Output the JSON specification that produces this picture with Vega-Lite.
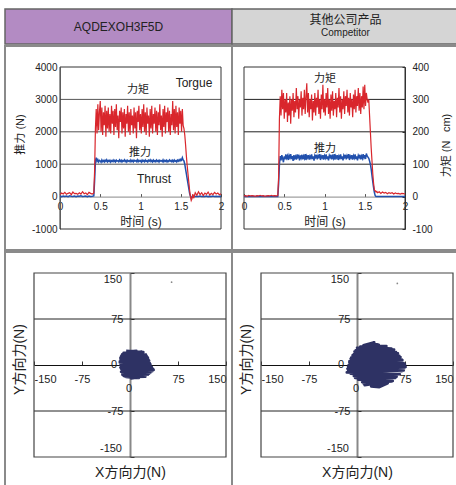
{
"$schema":"https://vega.github.io/schema/vega-lite/v6.json",
"background":"white",
"padding":{"left":4,"top":8,"right":0,"bottom":0},
"spacing":0,
"config":{"font":"Liberation Sans, Noto Sans CJK SC","view":{"stroke":null},"locale":{"number":{"decimal":".","thousands":",","grouping":[3],"currency":["$",""],"minus":"-"}}},
"datasets":{
"ts":[
{"t":0,"a":60,"b":10,"c":2,"d":0},{"t":0.02,"a":110,"b":0,"c":3,"d":0},{"t":0.04,"a":80,"b":20,"c":1,"d":0},{"t":0.06,"a":130,"b":5,"c":4,"d":0},{"t":0.08,"a":70,"b":15,"c":2,"d":0},{"t":0.10,"a":100,"b":0,"c":3,"d":0},{"t":0.12,"a":120,"b":25,"c":2,"d":0},{"t":0.14,"a":60,"b":10,"c":1,"d":0},{"t":0.16,"a":140,"b":5,"c":3,"d":0},{"t":0.18,"a":90,"b":20,"c":2,"d":0},{"t":0.20,"a":100,"b":0,"c":4,"d":0},{"t":0.22,"a":70,"b":15,"c":2,"d":0},{"t":0.24,"a":120,"b":10,"c":3,"d":0},{"t":0.26,"a":80,"b":25,"c":1,"d":0},{"t":0.28,"a":150,"b":5,"c":2,"d":0},{"t":0.30,"a":90,"b":10,"c":3,"d":0},{"t":0.32,"a":110,"b":20,"c":2,"d":0},{"t":0.34,"a":60,"b":0,"c":4,"d":0},{"t":0.36,"a":130,"b":15,"c":2,"d":0},{"t":0.38,"a":100,"b":5,"c":3,"d":0},{"t":0.40,"a":80,"b":10,"c":2,"d":0},{"t":0.42,"a":110,"b":20,"c":3,"d":0},
{"t":0.43,"a":800,"b":500,"c":60,"d":40},{"t":0.44,"a":2100,"b":1100,"c":240,"d":100},
{"t":0.45,"a":2700,"b":1200,"c":310,"d":125},{"t":0.46,"a":1950,"b":1090,"c":250,"d":112},{"t":0.47,"a":2850,"b":1140,"c":330,"d":128},{"t":0.48,"a":2050,"b":1070,"c":270,"d":118},{"t":0.49,"a":2600,"b":1120,"c":320,"d":106},{"t":0.50,"a":2950,"b":1100,"c":240,"d":124},{"t":0.51,"a":2000,"b":1060,"c":300,"d":115},{"t":0.52,"a":2750,"b":1130,"c":260,"d":130},{"t":0.53,"a":1900,"b":1080,"c":320,"d":119},{"t":0.54,"a":2600,"b":1110,"c":230,"d":126},
{"t":0.55,"a":2200,"b":1070,"c":290,"d":113},{"t":0.56,"a":2800,"b":1125,"c":250,"d":127},{"t":0.57,"a":1850,"b":1090,"c":310,"d":120},{"t":0.58,"a":2650,"b":1135,"c":225,"d":131},{"t":0.59,"a":2100,"b":1075,"c":300,"d":116},{"t":0.60,"a":2750,"b":1115,"c":265,"d":125},{"t":0.61,"a":2000,"b":1085,"c":320,"d":110},{"t":0.62,"a":2550,"b":1120,"c":245,"d":128},{"t":0.63,"a":1950,"b":1065,"c":295,"d":118},{"t":0.64,"a":2800,"b":1110,"c":260,"d":124},
{"t":0.65,"a":2250,"b":1090,"c":335,"d":114},{"t":0.66,"a":2650,"b":1130,"c":270,"d":130},{"t":0.67,"a":1900,"b":1080,"c":310,"d":121},{"t":0.68,"a":2700,"b":1115,"c":240,"d":126},{"t":0.69,"a":2150,"b":1070,"c":300,"d":112},{"t":0.70,"a":2850,"b":1125,"c":275,"d":127},{"t":0.71,"a":2050,"b":1095,"c":325,"d":119},{"t":0.72,"a":2500,"b":1110,"c":250,"d":129},{"t":0.73,"a":1800,"b":1075,"c":305,"d":115},{"t":0.74,"a":2650,"b":1130,"c":270,"d":125},
{"t":0.75,"a":2300,"b":1085,"c":330,"d":118},{"t":0.76,"a":2750,"b":1120,"c":255,"d":131},{"t":0.77,"a":1950,"b":1070,"c":310,"d":113},{"t":0.78,"a":2600,"b":1110,"c":350,"d":126},{"t":0.79,"a":2100,"b":1095,"c":260,"d":120},{"t":0.80,"a":2700,"b":1135,"c":320,"d":128},{"t":0.81,"a":1850,"b":1080,"c":245,"d":114},{"t":0.82,"a":2550,"b":1115,"c":300,"d":125},{"t":0.83,"a":2250,"b":1065,"c":270,"d":119},{"t":0.84,"a":2800,"b":1120,"c":315,"d":130},
{"t":0.85,"a":2000,"b":1090,"c":235,"d":116},{"t":0.86,"a":2600,"b":1110,"c":295,"d":124},{"t":0.87,"a":1900,"b":1075,"c":260,"d":111},{"t":0.88,"a":2700,"b":1130,"c":320,"d":127},{"t":0.89,"a":2200,"b":1085,"c":250,"d":121},{"t":0.90,"a":2500,"b":1115,"c":305,"d":129},{"t":0.91,"a":1950,"b":1070,"c":275,"d":115},{"t":0.92,"a":2750,"b":1125,"c":330,"d":126},{"t":0.93,"a":2100,"b":1095,"c":255,"d":118},{"t":0.94,"a":2600,"b":1110,"c":300,"d":131},
{"t":0.95,"a":1800,"b":1080,"c":240,"d":113},{"t":0.96,"a":2650,"b":1135,"c":315,"d":125},{"t":0.97,"a":2300,"b":1075,"c":270,"d":120},{"t":0.98,"a":2800,"b":1120,"c":345,"d":128},{"t":0.99,"a":2050,"b":1090,"c":260,"d":114},{"t":1.00,"a":2550,"b":1110,"c":300,"d":126},{"t":1.01,"a":1950,"b":1065,"c":250,"d":119},{"t":1.02,"a":2700,"b":1125,"c":320,"d":130},{"t":1.03,"a":2150,"b":1085,"c":275,"d":116},{"t":1.04,"a":2850,"b":1115,"c":335,"d":124},
{"t":1.05,"a":2000,"b":1075,"c":255,"d":112},{"t":1.06,"a":2600,"b":1130,"c":300,"d":127},{"t":1.07,"a":1900,"b":1090,"c":240,"d":121},{"t":1.08,"a":2750,"b":1110,"c":315,"d":129},{"t":1.09,"a":2250,"b":1070,"c":265,"d":115},{"t":1.10,"a":2500,"b":1120,"c":325,"d":125},{"t":1.11,"a":1850,"b":1095,"c":250,"d":118},{"t":1.12,"a":2700,"b":1135,"c":295,"d":131},{"t":1.13,"a":2100,"b":1080,"c":270,"d":114},{"t":1.14,"a":2800,"b":1115,"c":320,"d":126},
{"t":1.15,"a":1950,"b":1070,"c":245,"d":120},{"t":1.16,"a":2550,"b":1125,"c":305,"d":128},{"t":1.17,"a":2250,"b":1085,"c":275,"d":113},{"t":1.18,"a":2750,"b":1110,"c":335,"d":125},{"t":1.19,"a":2000,"b":1075,"c":260,"d":119},{"t":1.20,"a":2650,"b":1130,"c":310,"d":130},{"t":1.21,"a":1900,"b":1090,"c":240,"d":116},{"t":1.22,"a":2600,"b":1115,"c":300,"d":124},{"t":1.23,"a":2200,"b":1065,"c":270,"d":112},{"t":1.24,"a":2850,"b":1120,"c":325,"d":127},
{"t":1.25,"a":2050,"b":1095,"c":255,"d":121},{"t":1.26,"a":2500,"b":1110,"c":310,"d":129},{"t":1.27,"a":1850,"b":1080,"c":280,"d":115},{"t":1.28,"a":2700,"b":1135,"c":330,"d":126},{"t":1.29,"a":2150,"b":1075,"c":260,"d":118},{"t":1.30,"a":2800,"b":1115,"c":305,"d":131},{"t":1.31,"a":1950,"b":1090,"c":250,"d":113},{"t":1.32,"a":2600,"b":1125,"c":320,"d":125},{"t":1.33,"a":2300,"b":1070,"c":275,"d":120},{"t":1.34,"a":2750,"b":1110,"c":300,"d":128},
{"t":1.35,"a":2000,"b":1085,"c":245,"d":114},{"t":1.36,"a":2650,"b":1130,"c":315,"d":126},{"t":1.37,"a":1900,"b":1095,"c":270,"d":119},{"t":1.38,"a":2550,"b":1115,"c":330,"d":130},{"t":1.39,"a":2200,"b":1075,"c":260,"d":116},{"t":1.40,"a":2950,"b":1120,"c":310,"d":124},{"t":1.41,"a":2050,"b":1080,"c":280,"d":112},{"t":1.42,"a":2700,"b":1130,"c":335,"d":127},{"t":1.43,"a":1950,"b":1090,"c":265,"d":121},{"t":1.44,"a":2800,"b":1110,"c":320,"d":129},
{"t":1.45,"a":2150,"b":1070,"c":255,"d":115},{"t":1.46,"a":2600,"b":1125,"c":310,"d":125},{"t":1.47,"a":1900,"b":1095,"c":275,"d":118},{"t":1.48,"a":2750,"b":1140,"c":340,"d":131},{"t":1.49,"a":2250,"b":1100,"c":270,"d":120},{"t":1.50,"a":2650,"b":1150,"c":345,"d":128},{"t":1.51,"a":2000,"b":1120,"c":280,"d":116},{"t":1.52,"a":2700,"b":1200,"c":320,"d":133},{"t":1.53,"a":2200,"b":1130,"c":300,"d":125},
{"t":1.54,"a":2100,"b":1100,"c":290,"d":122},{"t":1.55,"a":1900,"b":1000,"c":300,"d":118},{"t":1.56,"a":1600,"b":850,"c":250,"d":110},{"t":1.57,"a":1250,"b":700,"c":200,"d":100},{"t":1.58,"a":950,"b":550,"c":150,"d":85},{"t":1.59,"a":700,"b":400,"c":110,"d":65},{"t":1.60,"a":450,"b":250,"c":70,"d":45},{"t":1.61,"a":200,"b":100,"c":40,"d":28},{"t":1.62,"a":0,"b":20,"c":20,"d":12},{"t":1.63,"a":-120,"b":-30,"c":18,"d":3},{"t":1.64,"a":-60,"b":-20,"c":14,"d":0},{"t":1.65,"a":80,"b":0,"c":16,"d":0},{"t":1.66,"a":-50,"b":10,"c":12,"d":0},
{"t":1.68,"a":120,"b":0,"c":15,"d":0},{"t":1.70,"a":40,"b":10,"c":10,"d":0},{"t":1.72,"a":150,"b":5,"c":14,"d":0},{"t":1.74,"a":60,"b":15,"c":11,"d":0},{"t":1.76,"a":120,"b":0,"c":13,"d":0},{"t":1.78,"a":30,"b":10,"c":9,"d":0},{"t":1.80,"a":110,"b":5,"c":12,"d":0},{"t":1.82,"a":70,"b":20,"c":10,"d":0},{"t":1.84,"a":140,"b":0,"c":12,"d":0},{"t":1.86,"a":50,"b":10,"c":8,"d":0},{"t":1.88,"a":100,"b":5,"c":11,"d":0},{"t":1.90,"a":60,"b":15,"c":9,"d":0},{"t":1.92,"a":130,"b":0,"c":10,"d":0},{"t":1.94,"a":80,"b":10,"c":8,"d":0},{"t":1.96,"a":110,"b":5,"c":10,"d":0},{"t":1.98,"a":60,"b":10,"c":9,"d":0},{"t":2.00,"a":90,"b":5,"c":8,"d":0}
],
"sL":[
{"i":1,"x":-6,"y":23},{"i":2,"x":21,"y":21},{"i":3,"x":-12,"y":18},{"i":4,"x":26,"y":15},{"i":5,"x":-15,"y":12},{"i":6,"x":29,"y":9},{"i":7,"x":-16,"y":6},{"i":8,"x":31,"y":3},{"i":9,"x":-15,"y":0},{"i":10,"x":34,"y":-3},{"i":11,"x":-14,"y":-6},{"i":12,"x":37,"y":-8},{"i":13,"x":-13,"y":-10},{"i":14,"x":32,"y":-12},{"i":15,"x":-12,"y":-14},{"i":16,"x":28,"y":-16},{"i":17,"x":-10,"y":-18},{"i":18,"x":24,"y":-19},{"i":19,"x":-6,"y":-20},{"i":20,"x":14,"y":-21},{"i":21,"x":-12,"y":-16},{"i":22,"x":30,"y":-14},{"i":23,"x":-14,"y":-11},{"i":24,"x":36,"y":-6},{"i":25,"x":-15,"y":-4},{"i":26,"x":32,"y":1},{"i":27,"x":-16,"y":4},{"i":28,"x":30,"y":7},{"i":29,"x":-15,"y":10},{"i":30,"x":28,"y":12},{"i":31,"x":-14,"y":14},{"i":32,"x":25,"y":17},{"i":33,"x":-10,"y":20},{"i":34,"x":20,"y":20},{"i":35,"x":-4,"y":22},{"i":36,"x":10,"y":23},{"i":37,"x":-8,"y":-19},{"i":38,"x":14,"y":-20},{"i":39,"x":2,"y":-22},{"i":40,"x":18,"y":22},{"i":41,"x":-13,"y":16},{"i":42,"x":35,"y":-10},{"i":43,"x":0,"y":5},{"i":44,"x":-16,"y":-2}
],
"sR":[
{"i":1,"x":24,"y":36},{"i":2,"x":34,"y":33},{"i":3,"x":5,"y":30},{"i":4,"x":54,"y":27},{"i":5,"x":-2,"y":24},{"i":6,"x":61,"y":21},{"i":7,"x":-5,"y":18},{"i":8,"x":66,"y":15},{"i":9,"x":-9,"y":12},{"i":10,"x":70,"y":9},{"i":11,"x":-12,"y":6},{"i":12,"x":73,"y":3},{"i":13,"x":-13,"y":0},{"i":14,"x":76,"y":-3},{"i":15,"x":-15,"y":-6},{"i":16,"x":73,"y":-9},{"i":17,"x":-16,"y":-12},{"i":18,"x":67,"y":-15},{"i":19,"x":-5,"y":-18},{"i":20,"x":60,"y":-21},{"i":21,"x":2,"y":-24},{"i":22,"x":54,"y":-27},{"i":23,"x":10,"y":-30},{"i":24,"x":40,"y":-33},{"i":25,"x":22,"y":-35},{"i":26,"x":35,"y":-36},{"i":27,"x":48,"y":-30},{"i":28,"x":8,"y":-28},{"i":29,"x":62,"y":-19},{"i":30,"x":-10,"y":-14},{"i":31,"x":72,"y":-6},{"i":32,"x":-14,"y":-3},{"i":33,"x":75,"y":1},{"i":34,"x":-12,"y":4},{"i":35,"x":71,"y":8},{"i":36,"x":-10,"y":10},{"i":37,"x":68,"y":13},{"i":38,"x":-7,"y":16},{"i":39,"x":64,"y":19},{"i":40,"x":-4,"y":22},{"i":41,"x":58,"y":25},{"i":42,"x":0,"y":28},{"i":43,"x":46,"y":31},{"i":44,"x":10,"y":32},{"i":45,"x":27,"y":37},{"i":46,"x":15,"y":33},{"i":47,"x":2,"y":27},{"i":48,"x":12,"y":-33},{"i":49,"x":56,"y":-26},{"i":50,"x":-3,"y":-21},{"i":51,"x":74,"y":-1},{"i":52,"x":-13,"y":-5},{"i":53,"x":70,"y":-10},{"i":54,"x":-11,"y":2},{"i":55,"x":74,"y":-5},{"i":56,"x":-14,"y":-8},{"i":57,"x":66,"y":5},{"i":58,"x":-12,"y":-10},{"i":59,"x":72,"y":-2},{"i":60,"x":0,"y":-16},{"i":61,"x":50,"y":14}
],
"zl":[{"x":0,"y":150,"s":"150","p":"t"},{"x":0,"y":-150,"s":"-150","p":"b"}]
},
"vconcat":[
{"hconcat":[
 {"width":227,"height":35,"view":{"fill":"#b38bc3","stroke":"#666","strokeWidth":1.5},"data":{"values":[{"s":"AQDEXOH3F5D"}]},"mark":{"type":"text","fontSize":12,"color":"#222"},"encoding":{"text":{"field":"s"}}},
 {"width":227,"height":35,"view":{"fill":"#d5d5d5","stroke":"#666","strokeWidth":1.5},"data":{"values":[{"s":"其他公司产品","e":"Competitor"}]},"layer":[
  {"mark":{"type":"text","fontSize":12,"color":"#222","dy":-7},"encoding":{"text":{"field":"s"}}},
  {"mark":{"type":"text","fontSize":10,"color":"#222","dy":6},"encoding":{"text":{"field":"e"}}}
 ]}
],"spacing":0,"bounds":"flush"},
{"hconcat":[
 {"width":227,"height":204,"view":{"stroke":"#8a8a8a","strokeWidth":2},"layer":[
  {"data":{"values":[{"g":1000},{"g":2000},{"g":3000}]},"mark":{"type":"rule","color":"#555","strokeWidth":1},"encoding":{"x":{"datum":0,"type":"quantitative","scale":{"domain":[0,2],"range":[55,216],"nice":false,"zero":false}},"x2":{"datum":2},"y":{"field":"g","type":"quantitative","scale":{"domain":[-1000,4000],"range":[183,21],"nice":false,"zero":false}}}},
  {"data":{"values":[{}]},"mark":{"type":"rect","filled":false,"stroke":"#333","strokeWidth":1},"encoding":{"x":{"datum":0,"type":"quantitative","scale":{"domain":[0,2],"range":[55,216],"nice":false,"zero":false}},"x2":{"datum":2},"y":{"datum":-1000,"type":"quantitative","scale":{"domain":[-1000,4000],"range":[183,21],"nice":false,"zero":false}},"y2":{"datum":4000}}},
  {"data":{"name":"ts"},"mark":{"type":"line","color":"#2150ad","strokeWidth":1.5},"encoding":{
   "x":{"field":"t","type":"quantitative","scale":{"domain":[0,2],"range":[55,216],"nice":false,"zero":false},"axis":{"orient":"bottom","offset":-53.4,"values":[0,0.5,1,1.5,2],"format":"~g","labelFlush":false,"labelOverlap":false,"labelBound":false,"grid":false,"domainColor":"#888","domainWidth":1,"tickColor":"#555","tickSize":-3,"labelPadding":8,"labelFontSize":10,"labelColor":"#222","title":"时间 (s)","titleFontSize":12,"titleFontWeight":"normal","titleColor":"#222","titleBaseline":"middle","titleY":25}},
   "y":{"field":"b","type":"quantitative","scale":{"domain":[-1000,4000],"range":[183,21],"nice":false,"zero":false},"axis":{"orient":"left","offset":-55,"values":[-1000,0,1000,2000,3000,4000],"format":"d","labelFlush":false,"labelOverlap":false,"labelBound":false,"grid":false,"domainColor":"#888","ticks":false,"labelPadding":3,"labelFontSize":10,"labelColor":"#222","title":"推力 (N)","titleFontSize":11,"titleFontWeight":"normal","titleColor":"#222","titleAngle":-90,"titleBaseline":"middle","titleX":-40,"titleY":88}}}},
  {"data":{"name":"ts"},"mark":{"type":"line","color":"#d9262c","strokeWidth":1.2},"encoding":{
   "x":{"field":"t","type":"quantitative","scale":{"domain":[0,2],"range":[55,216],"nice":false,"zero":false}},
   "y":{"field":"a","type":"quantitative","scale":{"domain":[-1000,4000],"range":[183,21],"nice":false,"zero":false}}}},
  {"data":{"values":[{"t":1.665,"v":3506,"s":"Torgue"},{"t":1.168,"v":543,"s":"Thrust"}]},"mark":{"type":"text","fontSize":12,"color":"#222"},"encoding":{
   "x":{"field":"t","type":"quantitative","scale":{"domain":[0,2],"range":[55,216],"nice":false,"zero":false}},
   "y":{"field":"v","type":"quantitative","scale":{"domain":[-1000,4000],"range":[183,21],"nice":false,"zero":false}},
   "text":{"field":"s"}}},
  {"data":{"values":[{"t":0.969,"v":3290,"s":"力矩"},{"t":0.994,"v":1361,"s":"推力"}]},"mark":{"type":"text","fontSize":11,"color":"#222"},"encoding":{
   "x":{"field":"t","type":"quantitative","scale":{"domain":[0,2],"range":[55,216],"nice":false,"zero":false}},
   "y":{"field":"v","type":"quantitative","scale":{"domain":[-1000,4000],"range":[183,21],"nice":false,"zero":false}},
   "text":{"field":"s"}}}
 ]},
 {"width":227,"height":204,"view":{"stroke":"#8a8a8a","strokeWidth":2},"layer":[
  {"data":{"values":[{"g":100},{"g":200},{"g":300}]},"mark":{"type":"rule","color":"#222","strokeWidth":1},"encoding":{"x":{"datum":0,"type":"quantitative","scale":{"domain":[0,2],"range":[12,173],"nice":false,"zero":false}},"x2":{"datum":2},"y":{"field":"g","type":"quantitative","scale":{"domain":[-100,400],"range":[183,21],"nice":false,"zero":false}}}},
  {"data":{"values":[{}]},"mark":{"type":"rect","filled":false,"stroke":"#333","strokeWidth":1},"encoding":{"x":{"datum":0,"type":"quantitative","scale":{"domain":[0,2],"range":[12,173],"nice":false,"zero":false}},"x2":{"datum":2},"y":{"datum":-100,"type":"quantitative","scale":{"domain":[-100,400],"range":[183,21],"nice":false,"zero":false}},"y2":{"datum":400}}},
  {"data":{"name":"ts"},"mark":{"type":"line","color":"#2150ad","strokeWidth":1.5},"encoding":{
   "x":{"field":"t","type":"quantitative","scale":{"domain":[0,2],"range":[12,173],"nice":false,"zero":false},"axis":{"orient":"bottom","offset":-53.4,"values":[0,0.5,1,1.5,2],"format":"~g","labelFlush":false,"labelOverlap":false,"labelBound":false,"grid":false,"domainColor":"#888","domainWidth":1,"tickColor":"#555","tickSize":-3,"labelPadding":8,"labelFontSize":10,"labelColor":"#222","title":"时间 (s)","titleFontSize":12,"titleFontWeight":"normal","titleColor":"#222","titleBaseline":"middle","titleY":25}},
   "y":{"field":"d","type":"quantitative","scale":{"domain":[-100,400],"range":[183,21],"nice":false,"zero":false},"axis":{"orient":"right","offset":-54,"values":[-100,0,100,200,300,400],"format":"d","labelFlush":false,"labelOverlap":false,"labelBound":false,"grid":false,"domainColor":"#333","tickColor":"#333","tickSize":-3,"labelPadding":10,"labelFontSize":10,"labelColor":"#222","title":"力矩 (N \u2002cm)","titleFontSize":11,"titleFontWeight":"normal","titleColor":"#222","titleAngle":-90,"titleBaseline":"middle","titleX":41,"titleY":99}}}},
  {"data":{"name":"ts"},"mark":{"type":"line","color":"#d9262c","strokeWidth":1.2},"encoding":{
   "x":{"field":"t","type":"quantitative","scale":{"domain":[0,2],"range":[12,173],"nice":false,"zero":false}},
   "y":{"field":"c","type":"quantitative","scale":{"domain":[-100,400],"range":[183,21],"nice":false,"zero":false}}}},
  {"data":{"values":[{"t":1.006,"v":364,"s":"力矩"},{"t":1.006,"v":148,"s":"推力"}]},"mark":{"type":"text","fontSize":11,"color":"#222"},"encoding":{
   "x":{"field":"t","type":"quantitative","scale":{"domain":[0,2],"range":[12,173],"nice":false,"zero":false}},
   "y":{"field":"v","type":"quantitative","scale":{"domain":[-100,400],"range":[183,21],"nice":false,"zero":false}},
   "text":{"field":"s"}}}
 ]}
],"spacing":0,"bounds":"flush"},
{"hconcat":[
 {"width":227,"height":242,"view":{"stroke":"#8a8a8a","strokeWidth":2},"layer":[
  {"data":{"values":[{"g":75},{"g":-75}]},"mark":{"type":"rule","color":"#222","strokeWidth":1},"encoding":{"x":{"datum":-150,"type":"quantitative","scale":{"domain":[-150,150],"range":[29,221],"nice":false,"zero":false}},"x2":{"datum":150},"y":{"field":"g","type":"quantitative","scale":{"domain":[-150,150],"range":[205,21],"nice":false,"zero":false}}}},
  {"data":{"values":[{}]},"mark":{"type":"rect","filled":false,"stroke":"#444","strokeWidth":1.2},"encoding":{"x":{"datum":-150,"type":"quantitative","scale":{"domain":[-150,150],"range":[29,221],"nice":false,"zero":false}},"x2":{"datum":150},"y":{"datum":-150,"type":"quantitative","scale":{"domain":[-150,150],"range":[205,21],"nice":false,"zero":false}},"y2":{"datum":150}}},
  {"data":{"name":"sL"},"mark":{"type":"line","color":"#2e3264","strokeWidth":2.6,"strokeJoin":"round"},"encoding":{
   "x":{"field":"x","type":"quantitative","scale":{"domain":[-150,150],"range":[29,221],"nice":false,"zero":false},"axis":{"orient":"bottom","offset":-129,"values":[-150,-75,75,150],"format":"d","labelFlush":true,"labelOverlap":false,"labelBound":false,"grid":false,"domainColor":"#111","domainWidth":1,"tickColor":"#333","tickSize":-4,"labelPadding":12,"labelFontSize":11,"labelColor":"#222","title":"X方向力(N)","titleFontSize":14,"titleFontWeight":"normal","titleColor":"#222","titleBaseline":"middle","titleY":107}},
   "y":{"field":"y","type":"quantitative","scale":{"domain":[-150,150],"range":[205,21],"nice":false,"zero":false},"axis":{"orient":"left","offset":-125,"values":[-150,-75,75,150],"format":"d","labelExpr":"abs(datum.value) == 150 ? '' : datum.label","labelFlush":false,"labelOverlap":false,"labelBound":false,"grid":false,"domainColor":"#888","domainWidth":2,"tickColor":"#333","tickSize":-4,"labelPadding":11,"labelFontSize":11,"labelColor":"#222","title":"Y方向力(N)","titleFontSize":14,"titleFontWeight":"normal","titleColor":"#222","titleAngle":-90,"titleBaseline":"middle","titleX":-111,"titleY":107}},
   "order":{"field":"i","type":"quantitative"}}},
  {"data":{"values":[{"x":65,"y":135}]},"mark":{"type":"point","filled":true,"size":3,"color":"#555"},"encoding":{
   "x":{"field":"x","type":"quantitative","scale":{"domain":[-150,150],"range":[29,221],"nice":false,"zero":false}},
   "y":{"field":"y","type":"quantitative","scale":{"domain":[-150,150],"range":[205,21],"nice":false,"zero":false}}}},
  {"data":{"name":"zl"},"transform":[{"filter":"datum.p == 't'"}],"mark":{"type":"text","fontSize":11,"color":"#222","align":"right","dx":-8,"dy":7},"encoding":{
   "x":{"field":"x","type":"quantitative","scale":{"domain":[-150,150],"range":[29,221],"nice":false,"zero":false}},
   "y":{"field":"y","type":"quantitative","scale":{"domain":[-150,150],"range":[205,21],"nice":false,"zero":false}},
   "text":{"field":"s"}}},
  {"data":{"name":"zl"},"transform":[{"filter":"datum.p == 'b'"}],"mark":{"type":"text","fontSize":11,"color":"#222","align":"right","dx":-8,"dy":-8},"encoding":{
   "x":{"field":"x","type":"quantitative","scale":{"domain":[-150,150],"range":[29,221],"nice":false,"zero":false}},
   "y":{"field":"y","type":"quantitative","scale":{"domain":[-150,150],"range":[205,21],"nice":false,"zero":false}},
   "text":{"field":"s"}}},
  {"data":{"values":[{"x":0,"y":0,"s":"0"}]},"mark":{"type":"text","fontSize":11,"color":"#222","align":"right","dx":-13},"encoding":{
   "x":{"field":"x","type":"quantitative","scale":{"domain":[-150,150],"range":[29,221],"nice":false,"zero":false}},
   "y":{"field":"y","type":"quantitative","scale":{"domain":[-150,150],"range":[205,21],"nice":false,"zero":false}},
   "text":{"field":"s"}}},
  {"data":{"values":[{"x":0,"y":0,"s":"0"}]},"mark":{"type":"text","fontSize":11,"color":"#222","dx":-1,"dy":24},"encoding":{
   "x":{"field":"x","type":"quantitative","scale":{"domain":[-150,150],"range":[29,221],"nice":false,"zero":false}},
   "y":{"field":"y","type":"quantitative","scale":{"domain":[-150,150],"range":[205,21],"nice":false,"zero":false}},
   "text":{"field":"s"}}}
 ]},
 {"width":227,"height":242,"view":{"stroke":"#8a8a8a","strokeWidth":2},"layer":[
  {"data":{"values":[{"g":75},{"g":-75}]},"mark":{"type":"rule","color":"#222","strokeWidth":1},"encoding":{"x":{"datum":-150,"type":"quantitative","scale":{"domain":[-150,150],"range":[29,221],"nice":false,"zero":false}},"x2":{"datum":150},"y":{"field":"g","type":"quantitative","scale":{"domain":[-150,150],"range":[205,21],"nice":false,"zero":false}}}},
  {"data":{"values":[{}]},"mark":{"type":"rect","filled":false,"stroke":"#444","strokeWidth":1.2},"encoding":{"x":{"datum":-150,"type":"quantitative","scale":{"domain":[-150,150],"range":[29,221],"nice":false,"zero":false}},"x2":{"datum":150},"y":{"datum":-150,"type":"quantitative","scale":{"domain":[-150,150],"range":[205,21],"nice":false,"zero":false}},"y2":{"datum":150}}},
  {"data":{"name":"sR"},"mark":{"type":"line","color":"#2e3264","strokeWidth":2.6,"strokeJoin":"round"},"encoding":{
   "x":{"field":"x","type":"quantitative","scale":{"domain":[-150,150],"range":[29,221],"nice":false,"zero":false},"axis":{"orient":"bottom","offset":-129,"values":[-150,-75,75,150],"format":"d","labelFlush":true,"labelOverlap":false,"labelBound":false,"grid":false,"domainColor":"#111","domainWidth":1,"tickColor":"#333","tickSize":-4,"labelPadding":12,"labelFontSize":11,"labelColor":"#222","title":"X方向力(N)","titleFontSize":14,"titleFontWeight":"normal","titleColor":"#222","titleBaseline":"middle","titleY":107}},
   "y":{"field":"y","type":"quantitative","scale":{"domain":[-150,150],"range":[205,21],"nice":false,"zero":false},"axis":{"orient":"left","offset":-125,"values":[-150,-75,75,150],"format":"d","labelExpr":"abs(datum.value) == 150 ? '' : datum.label","labelFlush":false,"labelOverlap":false,"labelBound":false,"grid":false,"domainColor":"#888","domainWidth":2,"tickColor":"#333","tickSize":-4,"labelPadding":11,"labelFontSize":11,"labelColor":"#222","title":"Y方向力(N)","titleFontSize":14,"titleFontWeight":"normal","titleColor":"#222","titleAngle":-90,"titleBaseline":"middle","titleX":-111,"titleY":107}},
   "order":{"field":"i","type":"quantitative"}}},
  {"data":{"values":[{"x":63,"y":133}]},"mark":{"type":"point","filled":true,"size":3,"color":"#555"},"encoding":{
   "x":{"field":"x","type":"quantitative","scale":{"domain":[-150,150],"range":[29,221],"nice":false,"zero":false}},
   "y":{"field":"y","type":"quantitative","scale":{"domain":[-150,150],"range":[205,21],"nice":false,"zero":false}}}},
  {"data":{"name":"zl"},"transform":[{"filter":"datum.p == 't'"}],"mark":{"type":"text","fontSize":11,"color":"#222","align":"right","dx":-8,"dy":7},"encoding":{
   "x":{"field":"x","type":"quantitative","scale":{"domain":[-150,150],"range":[29,221],"nice":false,"zero":false}},
   "y":{"field":"y","type":"quantitative","scale":{"domain":[-150,150],"range":[205,21],"nice":false,"zero":false}},
   "text":{"field":"s"}}},
  {"data":{"name":"zl"},"transform":[{"filter":"datum.p == 'b'"}],"mark":{"type":"text","fontSize":11,"color":"#222","align":"right","dx":-8,"dy":-8},"encoding":{
   "x":{"field":"x","type":"quantitative","scale":{"domain":[-150,150],"range":[29,221],"nice":false,"zero":false}},
   "y":{"field":"y","type":"quantitative","scale":{"domain":[-150,150],"range":[205,21],"nice":false,"zero":false}},
   "text":{"field":"s"}}},
  {"data":{"values":[{"x":0,"y":0,"s":"0"}]},"mark":{"type":"text","fontSize":11,"color":"#222","align":"right","dx":-13},"encoding":{
   "x":{"field":"x","type":"quantitative","scale":{"domain":[-150,150],"range":[29,221],"nice":false,"zero":false}},
   "y":{"field":"y","type":"quantitative","scale":{"domain":[-150,150],"range":[205,21],"nice":false,"zero":false}},
   "text":{"field":"s"}}},
  {"data":{"values":[{"x":0,"y":0,"s":"0"}]},"mark":{"type":"text","fontSize":11,"color":"#222","dx":-1,"dy":24},"encoding":{
   "x":{"field":"x","type":"quantitative","scale":{"domain":[-150,150],"range":[29,221],"nice":false,"zero":false}},
   "y":{"field":"y","type":"quantitative","scale":{"domain":[-150,150],"range":[205,21],"nice":false,"zero":false}},
   "text":{"field":"s"}}}
 ]}
],"spacing":0,"bounds":"flush"}
]
}
